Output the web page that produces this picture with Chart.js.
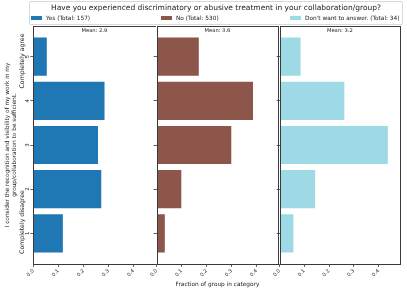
<!DOCTYPE html>
<html><head><meta charset="utf-8">
<script src="https://cdn.jsdelivr.net/npm/chart.js@4/dist/chart.umd.min.js"></script>
<style>
html,body{margin:0;padding:0;background:#fff}
#wrap{width:407px;height:291px;position:relative;overflow:hidden;font-family:'DejaVu Sans',sans-serif;color:#222}
canvas{position:absolute;top:0}
#legend{position:absolute;left:29px;top:1px;width:372px;height:22px;border:1px solid #d8d8d8;border-radius:2px;box-sizing:content-box}
#qtitle{position:absolute;left:0;right:0;top:1px;text-align:center;font-size:7.5px;line-height:10px;white-space:nowrap}
.item{position:absolute;top:12px;font-size:5.8px;line-height:8px;white-space:nowrap}
.sw{display:inline-block;width:11px;height:4px;vertical-align:middle;margin-right:4px;position:relative;top:-0.5px}
</style>
</head><body><div id="wrap">
<canvas id="c0" width="156" height="291" style="left:0px"></canvas>
<canvas id="c1" width="129" height="291" style="left:150px"></canvas>
<canvas id="c2" width="134" height="291" style="left:273px"></canvas>
<div id="legend"><div id="qtitle"></div></div>
</div>
<script>
const levels = [1, 2, 3, 4, 5];
const yesFrac = [0.121, 0.274, 0.261, 0.287, 0.057];
const noFrac = [0.036, 0.102, 0.302, 0.389, 0.172];
const dkFrac = [0.059, 0.147, 0.441, 0.265, 0.088];
const groupNames = ['Yes', 'No', "Don't want to answer."];
const groupTotals = [157, 530, 34];
const groupColors = ['#1f77b4', '#8c564b', '#9edae5'];
const xTicks = [0.0, 0.1, 0.2, 0.3, 0.4];
const yTicks = [1, 2, 3, 4, 5];
const questionTitle = 'Have you experienced discriminatory or abusive treatment in your collaboration/group?';
const yTitle = ['I consider the recognition and visibility of my work in my', 'group/collaboration to be sufficient.'];
const topLabel = 'Completely agree';
const bottomLabel = 'Completely disagree';
const xTitle = 'Fraction of group in category';

const FONT = "'DejaVu Sans', sans-serif";
const allFrac = [yesFrac, noFrac, dkFrac];
// per-panel layout: y-axis box width, right padding (canvas-local)
const panelLayout = [
  {yWidth: 33.3, padRight: 0.5},
  {yWidth: 5.7, padRight: 0.7},
  {yWidth: 5.3, padRight: 7}
];
const legendLeft = [1, 131, 260];

document.getElementById('qtitle').textContent = questionTitle;
const legendEl = document.getElementById('legend');
groupNames.forEach((g, i) => {
  const d = document.createElement('div');
  d.className = 'item';
  d.style.left = legendLeft[i] + 'px';
  const sw = document.createElement('span');
  sw.className = 'sw'; sw.style.background = groupColors[i];
  d.appendChild(sw);
  d.appendChild(document.createTextNode(g + ' (Total: ' + groupTotals[i] + ')'));
  legendEl.appendChild(d);
});

const panelPlugin = {
  id: 'panel',
  afterDraw(chart) {
    const ctx = chart.ctx, a = chart.chartArea;
    const i = chart.options.panelIndex;
    ctx.save();
    ctx.strokeStyle = '#3a3a3a'; ctx.lineWidth = 1;
    ctx.strokeRect(Math.round(a.left) + 0.5, Math.round(a.top) + 0.5, Math.round(a.right) - Math.round(a.left), Math.round(a.bottom) - Math.round(a.top));
    const fr = allFrac[i];
    let m = 0, t = 0;
    levels.forEach((lv, j) => { m += lv * fr[j]; t += fr[j]; });
    ctx.fillStyle = '#222';
    ctx.font = '5.2px ' + FONT;
    ctx.textAlign = 'center'; ctx.textBaseline = 'middle';
    ctx.fillText('Mean: ' + (m / t).toFixed(1), (a.left + a.right) / 2, a.top + 5);
    if (i === 0) {
      const ys = chart.scales.y;
      ctx.font = '5.4px ' + FONT;
      yTicks.forEach(v => {
        const py = ys.getPixelForValue(v);
        ctx.save(); ctx.translate(a.left - 5.5, py); ctx.rotate(-Math.PI / 2); ctx.fillText(String(v), 0, 0); ctx.restore();
      });
      ctx.font = '6.2px ' + FONT;
      ctx.save(); ctx.translate(22, 61); ctx.rotate(-Math.PI / 2); ctx.fillText(topLabel, 0, 0); ctx.restore();
      ctx.save(); ctx.translate(22, 222); ctx.rotate(-Math.PI / 2); ctx.fillText(bottomLabel, 0, 0); ctx.restore();
    }
    ctx.restore();
  }
};

function makeChart(i) {
  const L = panelLayout[i];
  return new Chart(document.getElementById('c' + i), {
    type: 'bar',
    data: {datasets: [{
      label: groupNames[i] + ' (Total: ' + groupTotals[i] + ')',
      data: levels.map((lv, j) => ({x: allFrac[i][j], y: lv})),
      backgroundColor: groupColors[i],
      borderColor: 'rgba(255,255,255,0.45)',
      borderWidth: 0.8,
      barPercentage: 0.9,
      categoryPercentage: 1.0
    }]},
    options: {
      panelIndex: i,
      indexAxis: 'y',
      responsive: false, animation: false,
      layout: {padding: {left: 0, right: L.padRight, top: 26, bottom: 0}},
      plugins: {legend: {display: false}, tooltip: {enabled: false}, title: {display: false}},
      scales: {
        x: {
          type: 'linear', position: 'bottom', min: 0, max: 0.487,
          afterBuildTicks: s => { s.ticks = xTicks.map(v => ({value: v})); },
          afterFit: s => { s.height = 27; },
          ticks: {
            minRotation: 45, maxRotation: 45, padding: 1,
            color: '#222', font: {family: FONT, size: 5},
            callback: v => Number(v).toFixed(1)
          },
          grid: {display: true, drawOnChartArea: false, drawTicks: true, tickLength: 3, color: '#3a3a3a', lineWidth: 0.8},
          border: {display: false},
          title: {display: i === 1, text: xTitle, color: '#222', font: {family: FONT, size: 5.8}, padding: {top: 0, bottom: 3}}
        },
        y: {
          type: 'linear', position: 'left', min: 0.305, max: 5.695, offset: false,
          afterBuildTicks: s => { s.ticks = yTicks.map(v => ({value: v})); },
          afterFit: s => { s.width = L.yWidth; },
          ticks: {display: false},
          grid: {display: true, offset: false, drawOnChartArea: false, drawTicks: true, tickLength: 3, color: '#3a3a3a', lineWidth: 0.8},
          border: {display: false},
          title: {display: i === 0, text: yTitle, color: '#222', font: {family: FONT, size: 5.8, lineHeight: 1.25}, padding: {top: 4, bottom: 0}}
        }
      }
    },
    plugins: [panelPlugin]
  });
}
[0, 1, 2].forEach(makeChart);
</script></body></html>
